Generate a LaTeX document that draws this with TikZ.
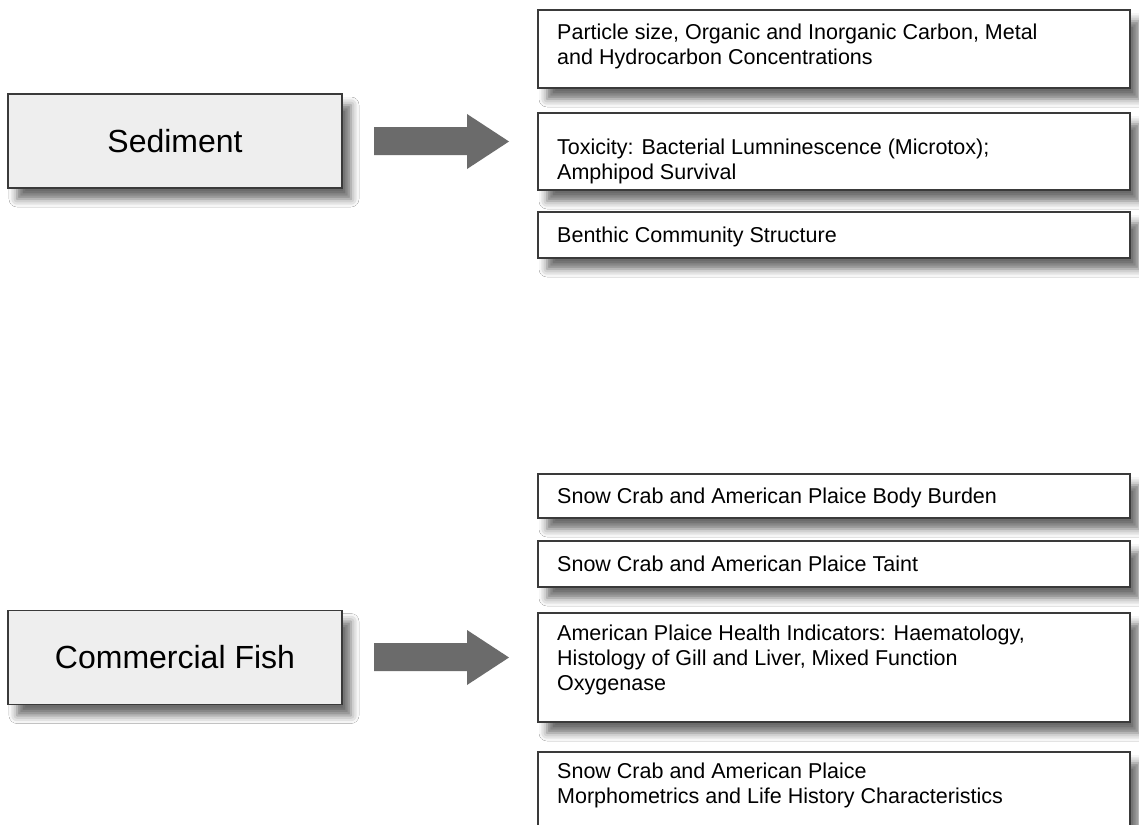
\documentclass[tikz,border=0pt]{standalone}
\usepackage{fontspec}
\setmainfont{Liberation Sans}
\usetikzlibrary{shadows.blur}
\definecolor{edgegray}{HTML}{3A3A3A}
\definecolor{leftfill}{HTML}{EEEEEE}
\definecolor{arrowgray}{HTML}{6B6B6B}
\begin{document}
\begin{tikzpicture}[x=1pt,y=-1pt,
  myshadow/.style={blur shadow={shadow xshift=9pt, shadow yshift=-11pt, shadow blur radius=8pt, shadow opacity=58}},
  catbox/.style={draw=edgegray, line width=1.5pt, fill=leftfill, minimum width=334pt, minimum height=94pt, inner sep=0pt, font=\fontsize{32}{36}\selectfont, myshadow},
  itembox/.style={draw=edgegray, line width=1.5pt, fill=white, minimum width=592pt, inner sep=0pt, myshadow},
  itemtxt/.style={anchor=base west, inner sep=0pt, font=\fontsize{21.5}{25}\selectfont},
  blockarrow/.style={fill=arrowgray, draw=none}]
\clip (0,0) rectangle (1139,824);
\fill[white] (0,0) rectangle (1139,824);

% Sediment group
\node[catbox] (sed) at (175,141) {Sediment};
\node[itembox, minimum height=78pt] (s1) at (834,49) {};
\node[itembox, minimum height=77pt] (s2) at (834,151.5) {};
\node[itembox, minimum height=46pt] (s3) at (834,235) {};
\node[itemtxt] (t1) at (557,40) {\parbox[t]{560pt}{\raggedright Particle size, Organic and Inorganic Carbon, Metal\\and Hydrocarbon Concentrations}};
\node[itemtxt] (t2) at (557,154) {\parbox[t]{560pt}{\raggedright Toxicity: Bacterial Lumninescence (Microtox);\\Amphipod Survival}};
\node[itemtxt] (t3) at (557,242) {Benthic Community Structure};
\coordinate (a1) at (374,141);
\fill[blockarrow] (a1) ++(0,-14) -- ++(93,0) -- ++(0,-13) -- ++(42,27.5) -- ++(-42,27.5) -- ++(0,-14) -- ++(-93,0) -- cycle;

% Commercial fish group
\node[catbox] (fish) at (175,657.5) {Commercial Fish};
\node[itembox, minimum height=44pt] (f1) at (834,496) {};
\node[itembox, minimum height=46pt] (f2) at (834,564) {};
\node[itembox, minimum height=109pt] (f3) at (834,667.5) {};
\node[itembox, minimum height=96pt] (f4) at (834,800) {};
\node[itemtxt] (u1) at (557,503) {Snow Crab and American Plaice Body Burden};
\node[itemtxt] (u2) at (557,571) {Snow Crab and American Plaice Taint};
\node[itemtxt] (u3) at (557,640) {\parbox[t]{560pt}{\raggedright American Plaice Health Indicators: Haematology,\\Histology of Gill and Liver, Mixed Function\\Oxygenase}};
\node[itemtxt] (u4) at (557,778) {\parbox[t]{560pt}{\raggedright Snow Crab and American Plaice\\Morphometrics and Life History Characteristics}};
\coordinate (a2) at (374,657);
\fill[blockarrow] (a2) ++(0,-14) -- ++(93,0) -- ++(0,-13) -- ++(42,27.5) -- ++(-42,27.5) -- ++(0,-14) -- ++(-93,0) -- cycle;
\end{tikzpicture}
\end{document}
